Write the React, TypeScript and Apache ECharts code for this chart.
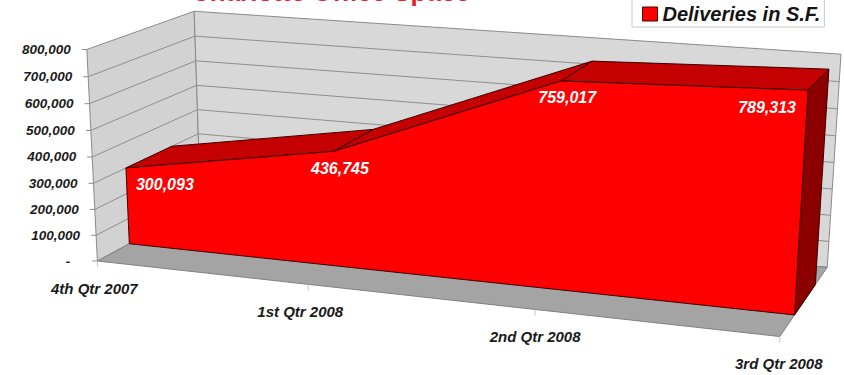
import React, { useEffect, useRef } from 'react';
import * as echarts from 'echarts';

// ---------------- data ----------------
const CATEGORIES = ['4th Qtr 2007', '1st Qtr 2008', '2nd Qtr 2008', '3rd Qtr 2008'];
const DELIVERIES = [300093, 436745, 759017, 789313];
const Y_TICKS = [0, 100000, 200000, 300000, 400000, 500000, 600000, 700000, 800000];
const SERIES_NAME = 'Deliveries in S.F.';
const TITLE = 'Charlotte Office Space';

// ---------------- layout (3-D box: X 0..1 along categories, Y 0..1 along value, Z 0..1 depth) ----------------
const BOX_CORNERS: [number, number, number][] = [
  [0, 1, 0], [0, 0, 0], [0, 1, 1], [0, 0, 1], [1, 1, 1], [1, 0, 1], [1, 0, 0],
];
const SCREEN_CORNERS: [number, number][] = [
  [87, 50], [97, 261], [194, 11], [201, 205], [841, 54], [827, 268], [780, 336],
];
const SERIES_FRONT_Z = 0.29;
const SERIES_BACK_Z = 0.73;
const CATEGORY_LABEL_SHIFT = [-3, -8, 0, -1];
const FONT = '"Liberation Sans", Arial, Helvetica, sans-serif';

function solveCamera(world: [number, number, number][], screen: [number, number][]): number[] {
  const n = 11;
  const M: number[][] = Array.from({ length: n }, () => new Array(n + 1).fill(0));
  const addRow = (r: number[], b: number) => {
    for (let i = 0; i < n; i++) {
      for (let j = 0; j < n; j++) M[i][j] += r[i] * r[j];
      M[i][n] += r[i] * b;
    }
  };
  world.forEach(([X, Y, Z], k) => {
    const [u, v] = screen[k];
    addRow([X, Y, Z, 1, 0, 0, 0, 0, -u * X, -u * Y, -u * Z], u);
    addRow([0, 0, 0, 0, X, Y, Z, 1, -v * X, -v * Y, -v * Z], v);
  });
  for (let c = 0; c < n; c++) {
    let p = c;
    for (let r = c + 1; r < n; r++) if (Math.abs(M[r][c]) > Math.abs(M[p][c])) p = r;
    const tmp = M[c]; M[c] = M[p]; M[p] = tmp;
    for (let r = 0; r < n; r++) {
      if (r === c) continue;
      const f = M[r][c] / M[c][c];
      for (let j = c; j <= n; j++) M[r][j] -= f * M[c][j];
    }
  }
  return M.map((row, i) => row[n] / row[i]);
}

const CAM = solveCamera(BOX_CORNERS, SCREEN_CORNERS);
function project(X: number, Y: number, Z: number): [number, number] {
  const w = CAM[8] * X + CAM[9] * Y + CAM[10] * Z + 1;
  return [
    (CAM[0] * X + CAM[1] * Y + CAM[2] * Z + CAM[3]) / w,
    (CAM[4] * X + CAM[5] * Y + CAM[6] * Z + CAM[7]) / w,
  ];
}

const Y_MAX = Y_TICKS[Y_TICKS.length - 1];

// maps data (category index, value) through the chart's own axes into unit box coordinates
function worldFromApi(api: any) {
  const [x0, y0] = api.coord([0, 0]);
  const [x1, y1] = api.coord([CATEGORIES.length - 1, Y_MAX]);
  return (i: number, v: number): [number, number] => {
    const [px, py] = api.coord([i, v]);
    return [(px - x0) / (x1 - x0), (py - y0) / (y1 - y0)];
  };
}

const fmt = (v: number) => (v === 0 ? '-' : v.toLocaleString('en-US'));

function renderFrame(params: any, api: any) {
  const toW = worldFromApi(api);
  const children: any[] = [];
  const poly = (pts: [number, number][], fill: string, stroke: string) => ({
    type: 'polygon', shape: { points: pts }, style: { fill, stroke, lineWidth: 1 },
  });
  children.push(poly([project(0, 0, 0), project(0, 1, 0), project(0, 1, 1), project(0, 0, 1)], '#d2d2d2', '#8a8a8a'));
  children.push(poly([project(0, 0, 1), project(0, 1, 1), project(1, 1, 1), project(1, 0, 1)], '#d8d8d8', '#8a8a8a'));
  children.push(poly([project(0, 0, 0), project(0, 0, 1), project(1, 0, 1), project(1, 0, 0)], '#a4a4a4', '#808080'));

  Y_TICKS.forEach((t) => {
    const [, Y] = toW(0, t);
    const front = project(0, Y, 0);
    if (t !== 0 && t !== Y_MAX) {
      children.push({
        type: 'polyline',
        shape: { points: [front, project(0, Y, 1), project(1, Y, 1)] },
        style: { stroke: '#8e8e8e', lineWidth: 1, fill: null },
      });
    }
    children.push({
      type: 'line',
      shape: { x1: front[0] - 5, y1: front[1], x2: front[0], y2: front[1] },
      style: { stroke: '#8a8a8a', lineWidth: 1 },
    });
    children.push({
      type: 'text',
      style: {
        x: front[0] - (t === 0 ? 27 : 16), y: front[1], text: fmt(t),
        align: 'right', verticalAlign: 'middle',
        fill: '#1a1a1a', fontSize: 13.5, fontWeight: 'bold', fontStyle: 'italic', fontFamily: FONT,
      },
    });
  });

  CATEGORIES.forEach((c, i) => {
    const [X] = toW(i, 0);
    const p = project(X, 0, 0);
    children.push({
      type: 'line',
      shape: { x1: p[0], y1: p[1], x2: p[0], y2: p[1] + 6 },
      style: { stroke: '#c4c4c4', lineWidth: 1 },
    });
    children.push({
      type: 'text',
      style: {
        x: p[0] + CATEGORY_LABEL_SHIFT[i], y: p[1] + 27, text: c,
        align: 'center', verticalAlign: 'middle',
        fill: '#1a1a1a', fontSize: 15, fontWeight: 'bold', fontStyle: 'italic', fontFamily: FONT,
      },
    });
  });
  return { type: 'group', children };
}

function renderArea(params: any, api: any) {
  if (params.dataIndex !== 0) return null;
  const toW = worldFromApi(api);
  const n = CATEGORIES.length;
  const pts: [number, number][] = [];
  for (let j = 0; j < n; j++) pts.push(toW(api.value(0, j), api.value(1, j)));
  const zf = SERIES_FRONT_Z;
  const zb = SERIES_BACK_Z;
  const stroke = '#3a0000';
  const children: any[] = [];
  for (let j = 0; j < n - 1; j++) {
    children.push({
      type: 'polygon',
      shape: {
        points: [
          project(pts[j][0], pts[j][1], zf), project(pts[j + 1][0], pts[j + 1][1], zf),
          project(pts[j + 1][0], pts[j + 1][1], zb), project(pts[j][0], pts[j][1], zb),
        ],
      },
      style: { fill: '#c40000', stroke, lineWidth: 1, lineJoin: 'round' },
    });
  }
  const last = pts[n - 1];
  children.push({
    type: 'polygon',
    shape: {
      points: [project(last[0], 0, zf), project(last[0], last[1], zf), project(last[0], last[1], zb), project(last[0], 0, zb)],
    },
    style: { fill: '#8c0000', stroke, lineWidth: 1 },
  });
  const front: [number, number][] = [project(pts[0][0], 0, zf)];
  pts.forEach((p) => front.push(project(p[0], p[1], zf)));
  front.push(project(last[0], 0, zf));
  children.push({ type: 'polygon', shape: { points: front }, style: { fill: '#ff0000', stroke, lineWidth: 1, lineJoin: 'round' } });

  pts.forEach((p, j) => {
    const q = project(p[0], p[1], zf);
    const isFirst = j === 0;
    const isLast = j === n - 1;
    children.push({
      type: 'text',
      style: {
        x: q[0] + (isFirst ? 10 : isLast ? -12 : 6), y: q[1] + 17,
        text: fmt(api.value(1, j)),
        align: isFirst ? 'left' : isLast ? 'right' : 'center', verticalAlign: 'middle',
        fill: '#ffffff', fontSize: 16, fontWeight: 'bold', fontStyle: 'italic', fontFamily: FONT,
      },
    });
  });
  return { type: 'group', children };
}

function buildOption(): any {
  return {
    animation: false,
    backgroundColor: '#ffffff',
    title: {
      text: TITLE, left: 191, top: -21, padding: 0,
      textStyle: { color: '#e4212a', fontSize: 26, fontWeight: 'bold', fontFamily: FONT },
    },
    legend: {
      data: [{ name: SERIES_NAME, icon: 'rect' }],
      left: 632, top: -8, padding: [12, 4, 3, 10],
      itemWidth: 15, itemHeight: 14,
      backgroundColor: '#ffffff', borderColor: '#c8c8c8', borderWidth: 1,
      selectedMode: false,
      itemStyle: { color: '#ff0000', borderColor: '#4a0000', borderWidth: 1 },
      textStyle: { fontSize: 20, fontWeight: 'bold', fontStyle: 'italic', color: '#141414', fontFamily: FONT },
    },
    grid: { left: 0, top: 0, width: 300, height: 300, show: false },
    xAxis: { type: 'category', data: CATEGORIES, boundaryGap: false, show: false },
    yAxis: { type: 'value', min: 0, max: Y_MAX, interval: 100000, show: false },
    series: [
      { type: 'custom', name: 'frame', silent: true, data: [[0, 0]], renderItem: renderFrame, z: 1 },
      {
        type: 'custom', name: SERIES_NAME, data: DELIVERIES.map((v, i) => [i, v]),
        encode: { x: 0, y: 1 }, renderItem: renderArea, z: 2,
        itemStyle: { color: '#ff0000', borderColor: '#4a0000', borderWidth: 1 },
      },
    ],
  };
}

export default function App() {
  const ref = useRef<HTMLDivElement>(null);
  useEffect(() => {
    document.body.style.margin = '0';
    const chart = echarts.init(ref.current!, undefined, { renderer: 'svg' });
    chart.setOption(buildOption());
    return () => chart.dispose();
  }, []);
  return <div ref={ref} style={{ position: 'fixed', left: 0, top: 0, width: 844, height: 375 }} />;
}
